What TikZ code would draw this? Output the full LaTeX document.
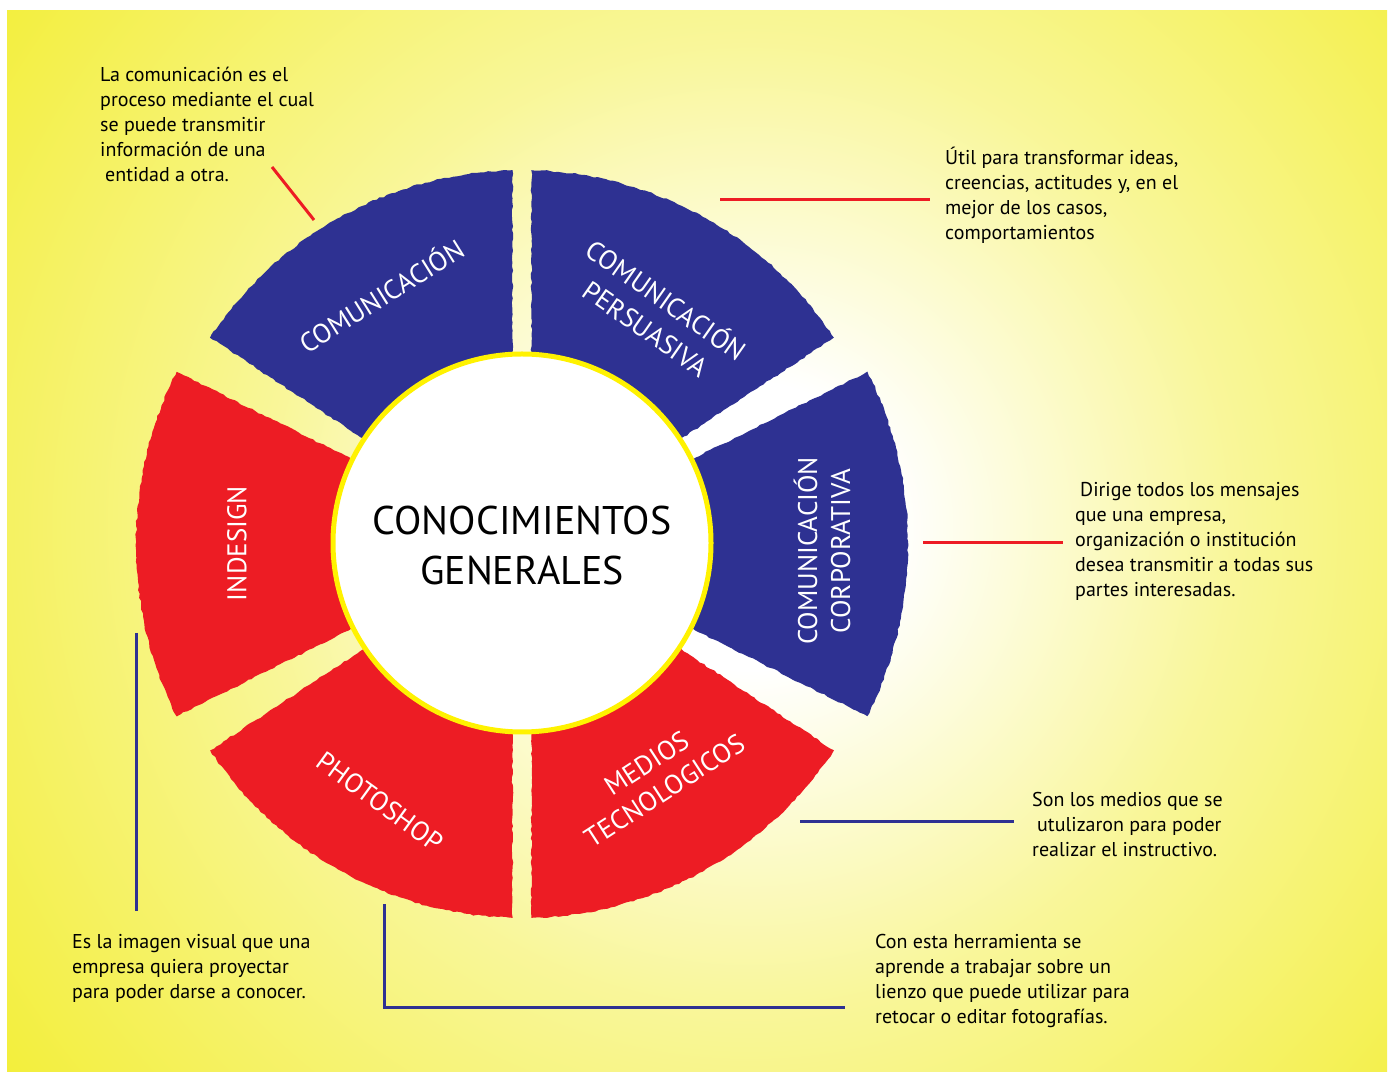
\documentclass[tikz,border=0pt]{standalone}
\usepackage{fontspec}
\setmainfont{PT Sans}
\usetikzlibrary{decorations.pathmorphing}
\definecolor{bgy}{RGB}{241,236,31}
\definecolor{segblue}{RGB}{46,49,146}
\definecolor{segred}{RGB}{237,28,36}
\definecolor{ringy}{RGB}{255,242,0}
\pgfdeclareradialshading{glow}{\pgfpoint{0bp}{0bp}}{color(0bp)=(white); color(3bp)=(white); color(10bp)=(white!55!bgy); color(22bp)=(bgy); color(50bp)=(bgy)}
\newcommand\RingIn{170}
% #1 colour, #2 start angle, #3 end angle, #4 angular half gap at start, #5 parallel half gap at start,
% #6 angular half gap at end, #7 parallel half gap at end, #8 outer radius
\newcommand\ringseg[8]{%
  \fill[#1, segedge] ({#2+#4+asin(#5/#8)}:#8)
    arc[start angle={#2+#4+asin(#5/#8)}, end angle={#3-#6-asin(#7/#8)}, radius=#8]
    -- ({#3-#6-asin(#7/\RingIn)}:\RingIn)
    arc[start angle={#3-#6-asin(#7/\RingIn)}, end angle={#2+#4+asin(#5/\RingIn)}, radius=\RingIn]
    -- cycle;}
\newcommand\desctext[1]{\parbox[t]{340pt}{\raggedright #1}}
\begin{document}
\begin{tikzpicture}[x=1pt,y=1pt,
  segedge/.style={decorate, decoration={random steps, segment length=4pt, amplitude=0.8pt}},
  desc/.style={anchor=base west, inner sep=0pt, text=black, font=\fontsize{20}{25}\selectfont},
  seglab/.style={text=white, inner sep=0pt, align=center, font=\fontsize{27}{33}\selectfont},
  redline/.style={draw=segred, line width=3pt},
  blueline/.style={draw=segblue, line width=3pt}]
\pgfmathsetseed{7}
\useasboundingbox (0,0) rectangle (1394,1071);
\fill[white] (0,0) rectangle (1394,1071);
% background with glow
\begin{scope}
  \clip (7,0) rectangle (1387,1060);
  \fill[bgy] (7,0) rectangle (1387,1060);
  \shade[shading=glow] (750,545) circle (1200);
\end{scope}
% ring segments
\begin{scope}[shift={(522,527)}]
  \ringseg{segblue}{90}{150}{0}{9.5}{3.5}{0}{374}
  \ringseg{segblue}{30}{90}{3.5}{0}{0}{9.5}{374}
  \ringseg{segblue}{-30}{30}{3.5}{0}{3.5}{0}{386}
  \ringseg{segred}{-90}{-30}{0}{9.5}{3.5}{0}{374}
  \ringseg{segred}{-150}{-90}{3.5}{0}{0}{9.5}{374}
  \ringseg{segred}{150}{210}{3.5}{0}{3.5}{0}{386}
\end{scope}
% centre
\node[circle, fill=white, draw=ringy, line width=5pt, minimum size=378pt, inner sep=0pt] (hub) at (522,528) {};
\node[align=center, inner sep=0pt, font=\fontsize{40}{50}\selectfont] (title) at (522,525.5) {CONOCIMIENTOS\\GENERALES};
% segment labels
\node[seglab, rotate=32] (lcom) at (381,776) {COMUNICACIÓN};
\node[seglab, rotate=-35, font=\fontsize{27}{35}\selectfont] (lpers) at (657,758) {COMUNICACIÓN\\PERSUASIVA};
\node[seglab, rotate=90] (lcorp) at (822,520) {COMUNICACIÓN\\CORPORATIVA};
\node[seglab, rotate=33] (lmed) at (656,294) {MEDIOS\\TECNOLOGICOS};
\node[seglab, rotate=-36] (lphoto) at (380,269) {PHOTOSHOP};
\node[seglab, rotate=90] (lind) at (237,527.5) {INDESIGN};
% descriptions
\node[desc] (t1) at (100,989) {\desctext{La comunicación es el\\proceso mediante el cual\\se puede transmitir\\información de una\\\hspace*{5pt}entidad a otra.}};
\node[desc] (t2) at (945,906) {\desctext{Útil para transformar ideas,\\creencias, actitudes y, en el\\mejor de los casos,\\comportamientos}};
\node[desc] (t3) at (1075,574) {\desctext{\hspace*{5pt}Dirige todos los mensajes\\que una empresa,\\organización o institución\\desea transmitir a todas sus\\partes interesadas.}};
\node[desc] (t4) at (1032,264) {\desctext{Son los medios que se\\\hspace*{5pt}utulizaron para poder\\realizar el instructivo.}};
\node[desc] (t5) at (875,123) {\desctext{Con esta herramienta se\\aprende a trabajar sobre un\\lienzo que puede utilizar para\\retocar o editar fotografías.}};
\node[desc] (t6) at (72,123) {\desctext{Es la imagen visual que una\\empresa quiera proyectar\\para poder darse a conocer.}};
% connectors
\coordinate (c1a) at (272,904); \coordinate (c1b) at (314,851);
\coordinate (c2a) at (720,871); \coordinate (c2b) at (930,871);
\coordinate (c3a) at (923,528); \coordinate (c3b) at (1063,528);
\coordinate (c4a) at (800,249); \coordinate (c4b) at (1014,249);
\coordinate (c5a) at (384,167); \coordinate (c5b) at (384,64); \coordinate (c5c) at (845,64);
\coordinate (c6a) at (136,438); \coordinate (c6b) at (136,160);
\draw[redline] (c1a) -- (c1b);
\draw[redline] (c2a) -- (c2b);
\draw[redline] (c3a) -- (c3b);
\draw[blueline] (c4a) -- (c4b);
\draw[blueline] (c5a) -- (c5b) -- (c5c);
\draw[blueline] (c6a) -- (c6b);
\end{tikzpicture}
\end{document}
